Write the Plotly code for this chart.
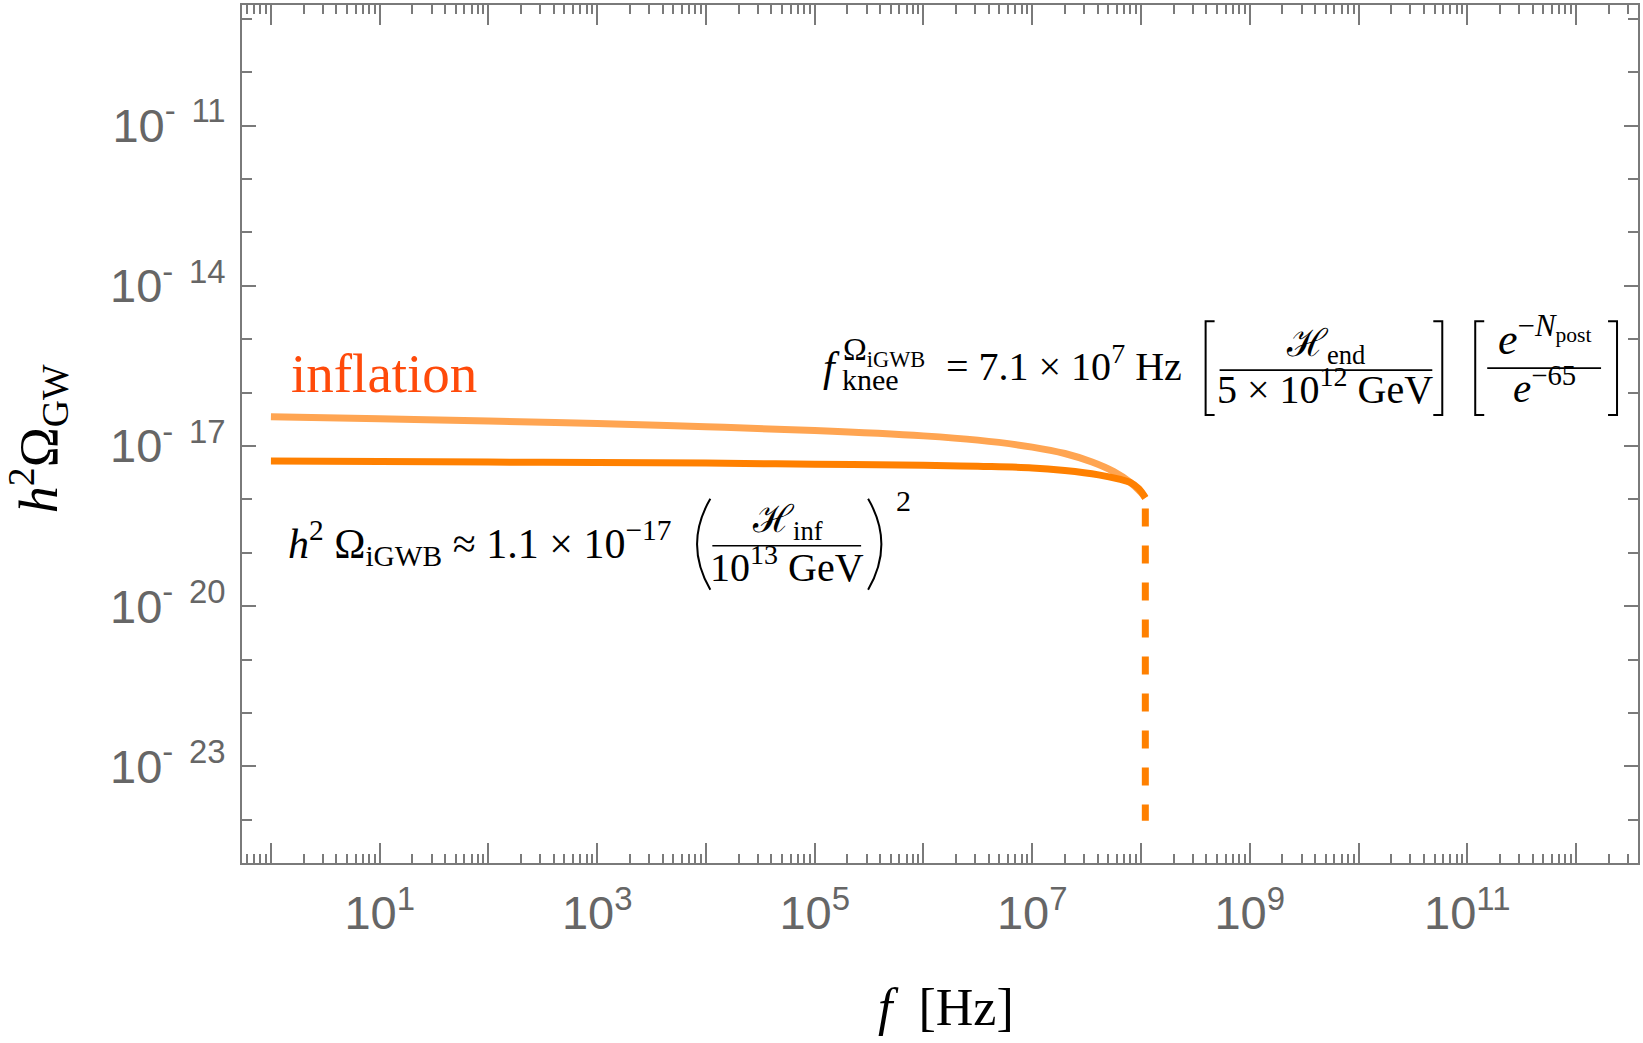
import plotly.graph_objects as go

# ---- data (log10 units) ----
log_f_upper = [0.0, 1.0, 2.0, 3.0, 4.0, 5.0, 6.0, 6.5, 7.0, 7.3, 7.55, 7.75, 7.9, 8.0, 8.04]
log_omega_upper = [-16.45, -16.49, -16.53, -16.58, -16.64, -16.71, -16.81, -16.89, -17.02, -17.14, -17.30, -17.48, -17.68, -17.87, -17.97]

log_f_lower = [0.0, 1.0, 2.0, 3.0, 4.0, 5.0, 6.0, 6.5, 7.0, 7.3, 7.61, 7.8, 7.9, 7.98, 8.04]
log_omega_lower = [-17.28, -17.29, -17.30, -17.31, -17.32, -17.34, -17.36, -17.38, -17.41, -17.46, -17.54, -17.62, -17.68, -17.80, -17.97]

log_f_cut = [8.04, 8.04]
log_omega_cut = [-18.17, -24.02]

x_major_exp = list(range(0, 13))
x_label_exp = [1, 3, 5, 7, 9, 11]
y_label_exp = [-11, -14, -17, -20, -23]
y_minor_exp = [e for e in range(-24, -8) if e not in y_label_exp]

x_range = [-0.266, 12.57]
y_range = [-24.81, -8.74]

# ---- figure geometry ----
W, H = 1643, 1043
ML, MR, MT, MB = 242, 3, 3, 180
PW, PH = W - ML - MR, H - MT - MB


def px(x):
    return (x - ML) / PW


def py(y):
    return (H - MB - y) / PH


def tolin(vals):
    return [10 ** v for v in vals]


fig = go.Figure()
fig.add_trace(go.Scatter(x=tolin(log_f_upper), y=tolin(log_omega_upper), mode="lines",
                         line=dict(color="#FFA552", width=7, shape="spline", smoothing=1.0),
                         showlegend=False, hoverinfo="skip"))
fig.add_trace(go.Scatter(x=tolin(log_f_lower), y=tolin(log_omega_lower), mode="lines",
                         line=dict(color="#FF8000", width=7, shape="spline", smoothing=1.0),
                         showlegend=False, hoverinfo="skip"))
fig.add_trace(go.Scatter(x=tolin(log_f_cut), y=tolin(log_omega_cut), mode="lines",
                         line=dict(color="#FF8000", width=7, dash="18px,19px"),
                         showlegend=False, hoverinfo="skip"))

frame = "#7a7a7a"
tickfont = dict(family="Liberation Sans, Arial, sans-serif", size=47, color="#666666")

x_minor = [m * 10 ** k for k in range(-1, 13) for m in range(2, 10)]
fig.update_xaxes(
    type="log", range=x_range, showgrid=False, zeroline=False,
    showline=True, linecolor=frame, linewidth=2, mirror="allticks",
    ticks="inside", ticklen=20, tickwidth=2, tickcolor=frame,
    tickvals=tolin(x_major_exp),
    ticktext=[f"10<sup>{k}</sup>" if k in x_label_exp else "" for k in x_major_exp],
    tickfont=tickfont, ticklabelstandoff=8,
    minor=dict(ticks="inside", ticklen=9, tickwidth=2, tickcolor=frame,
               tickvals=x_minor, showgrid=False),
)
fig.update_yaxes(
    type="log", range=y_range, showgrid=False, zeroline=False,
    showline=True, linecolor=frame, linewidth=2, mirror="allticks",
    ticks="inside", ticklen=14, tickwidth=2, tickcolor=frame,
    tickvals=tolin(y_label_exp),
    ticktext=[f"10<sup>-\u00a0\u2009{-k}</sup>" for k in y_label_exp],
    tickfont=tickfont, ticklabelstandoff=5,
    minor=dict(ticks="inside", ticklen=10, tickwidth=2, tickcolor=frame,
               tickvals=tolin(y_minor_exp), showgrid=False),
)

serif = "Liberation Serif, Times New Roman, serif"
anns = []
shapes = []


def text(t, x, y, size, xa="center", ya="middle", color="black", angle=0):
    anns.append(dict(text=t, x=px(x), y=py(y), xref="paper", yref="paper",
                     xanchor=xa, yanchor=ya, showarrow=False, textangle=angle,
                     borderpad=0,
                     font=dict(family=serif, size=size, color=color)))


def hline(x0, x1, y):
    shapes.append(dict(type="line", xref="paper", yref="paper",
                       x0=px(x0), x1=px(x1), y0=py(y), y1=py(y),
                       line=dict(color="black", width=1.6)))


def bracket(x, y0, y1, side):
    d = 9 if side == "l" else -9
    path = (f"M {px(x + d)},{py(y0)} L {px(x)},{py(y0)} "
            f"L {px(x)},{py(y1)} L {px(x + d)},{py(y1)}")
    shapes.append(dict(type="path", xref="paper", yref="paper", path=path,
                       line=dict(color="black", width=2)))


def paren(x, y0, y1, side):
    b = 14 if side == "l" else -14
    ym = (y0 + y1) / 2
    path = (f"M {px(x + b)},{py(y0)} Q {px(x - b * 0.9)},{py(ym)} {px(x + b)},{py(y1)}")
    shapes.append(dict(type="path", xref="paper", yref="paper", path=path,
                       line=dict(color="black", width=2)))


# axis titles
text("<i>h</i><sup>2</sup>Ω<sub>GW</sub>", 38, 438, 54, angle=-90)
text("<i>f</i>  [Hz]", 947, 1008, 52)

# curve label
text("inflation", 384, 372, 55, color="#FF4A0A")

# knee-frequency formula
text("<i>f</i>", 823, 366, 42, xa="left")
text("Ω<sub>iGWB</sub>", 843, 350, 32, xa="left")
text("knee", 842, 378, 30, xa="left")
text("= 7.1 × 10<sup>7</sup> Hz", 946, 362, 40, xa="left")
bracket(1207, 320, 414, "l")
text("ℋ<sub>end</sub>", 1327, 345, 38)
hline(1221, 1434, 369)
text("5 × 10<sup>12</sup> GeV", 1327, 385, 40)
bracket(1444, 320, 414, "r")
bracket(1477, 320, 414, "l")
text("<i>e</i><sup>−<i>N</i><sub>post</sub></sup>", 1546, 335, 44)
hline(1489, 1603, 367)
text("<i>e</i><sup>−65</sup>", 1546, 384, 41)
bracket(1619, 320, 414, "r")

# amplitude formula
text("<i>h</i><sup>2</sup> Ω<sub>iGWB</sub> ≈ 1.1 × 10<sup>−17</sup>", 287, 542, 42, xa="left")
paren(697, 498, 589, "l")
text("ℋ<sub>inf</sub>", 788, 521, 38)
hline(713, 862, 545)
text("10<sup>13</sup> GeV", 788, 564, 40)
paren(883, 498, 589, "r")
text("2", 904, 500, 30)

fig.update_layout(
    width=W, height=H, margin=dict(l=ML, r=MR, t=MT, b=MB),
    plot_bgcolor="white", paper_bgcolor="white",
    annotations=anns, shapes=shapes, showlegend=False,
)

fig.write_html("out.html")
